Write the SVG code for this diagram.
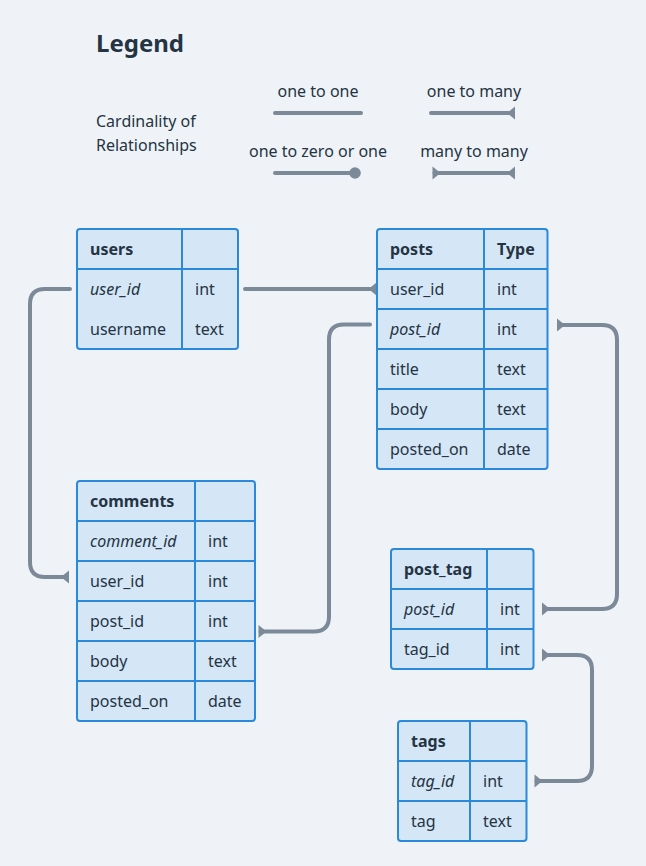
<svg xmlns="http://www.w3.org/2000/svg" width="646" height="866" viewBox="0 0 646 866">
<style>
text{font-family:"Noto Sans","Liberation Sans",sans-serif;font-size:16px;fill:#243443}
.title{font-size:24px;font-weight:700}
.h{font-weight:700}
.i{font-style:italic}
.mid{text-anchor:middle}
.tbl{fill:#d5e6f6;stroke:#2a89da;stroke-width:2}
.grid{stroke:#2a89da;stroke-width:2;fill:none}
.conn{fill:none;stroke:#7b8998;stroke-width:4;stroke-linecap:round;stroke-linejoin:round}
.m{fill:#7b8998}
</style>
<defs>
<marker id="many" markerUnits="userSpaceOnUse" markerWidth="20" markerHeight="20" viewBox="-10 -10 20 20" refX="0" refY="0" orient="auto-start-reverse">
<path class="m" d="M2,-6.5 L2,6.5 L-6,0 Z"/>
</marker>
<marker id="dot" markerUnits="userSpaceOnUse" markerWidth="14" markerHeight="14" viewBox="-7 -7 14 14" refX="0" refY="0" orient="auto">
<circle class="m" cx="0" cy="0" r="5.8"/>
</marker>
</defs>
<rect width="646" height="866" fill="#eff3f7"/>

<g id="legend">
<text class="title" x="96" y="52">Legend</text>
<text x="96" y="127">Cardinality of</text>
<text x="96" y="151">Relationships</text>
<text class="mid" x="318" y="97">one to one</text>
<text class="mid" x="474" y="97">one to many</text>
<text class="mid" x="318" y="157">one to zero or one</text>
<text class="mid" x="474" y="157">many to many</text>
<path class="conn" d="M275,113 H361"/>
<path class="conn" d="M431,113 H513" marker-end="url(#many)"/>
<path class="conn" d="M275,173 H355" marker-end="url(#dot)"/>
<path class="conn" d="M434.5,173 H513" marker-start="url(#many)" marker-end="url(#many)"/>
</g>

<g id="connectors">
<path class="conn" d="M245,289 H374.5" marker-end="url(#many)"/>
<path class="conn" d="M70,289 H45 Q30,289 30,304 V562 Q30,577 45,577 H67" marker-end="url(#many)"/>
<path class="conn" d="M370,324.5 H344 Q329,324.5 329,339.5 V616.5 Q329,631.5 314,631.5 H260.5" marker-end="url(#many)"/>
<path class="conn" d="M559,325 H602 Q617,325 617,340 V594 Q617,609 602,609 H544" marker-start="url(#many)" marker-end="url(#many)"/>
<path class="conn" d="M544,655 H577 Q592,655 592,670 V766 Q592,781 577,781 H536.5" marker-start="url(#many)" marker-end="url(#many)"/>
</g>

<g id="users">
<rect class="tbl" x="77" y="229" width="161" height="120" rx="3"/>
<path class="grid" d="M77,269 H238 M182,229 V349"/>
<text class="h" x="90" y="255">users</text>
<text class="i" x="90" y="295">user_id</text>
<text x="195" y="295">int</text>
<text x="90" y="335">username</text>
<text x="195" y="335">text</text>
</g>

<g id="posts">
<rect class="tbl" x="377" y="229" width="170.5" height="240" rx="3"/>
<path class="grid" d="M377,269 H547.5 M377,309 H547.5 M377,349 H547.5 M377,389 H547.5 M377,429 H547.5 M484,229 V469"/>
<text class="h" x="390" y="255">posts</text>
<text class="h" x="497" y="255">Type</text>
<text x="390" y="295">user_id</text>
<text x="497" y="295">int</text>
<text class="i" x="390" y="335">post_id</text>
<text x="497" y="335">int</text>
<text x="390" y="375">title</text>
<text x="497" y="375">text</text>
<text x="390" y="415">body</text>
<text x="497" y="415">text</text>
<text x="390" y="455">posted_on</text>
<text x="497" y="455">date</text>
</g>

<g id="comments">
<rect class="tbl" x="77" y="481" width="178" height="240" rx="3"/>
<path class="grid" d="M77,521 H255 M77,561 H255 M77,601 H255 M77,641 H255 M77,681 H255 M195,481 V721"/>
<text class="h" x="90" y="507">comments</text>
<text class="i" x="90" y="547">comment_id</text>
<text x="208" y="547">int</text>
<text x="90" y="587">user_id</text>
<text x="208" y="587">int</text>
<text x="90" y="627">post_id</text>
<text x="208" y="627">int</text>
<text x="90" y="667">body</text>
<text x="208" y="667">text</text>
<text x="90" y="707">posted_on</text>
<text x="208" y="707">date</text>
</g>

<g id="post_tag">
<rect class="tbl" x="391" y="549" width="142.5" height="120" rx="3"/>
<path class="grid" d="M391,589 H533.5 M391,629 H533.5 M487,549 V669"/>
<text class="h" x="404" y="575">post_tag</text>
<text class="i" x="404" y="615">post_id</text>
<text x="500" y="615">int</text>
<text x="404" y="655">tag_id</text>
<text x="500" y="655">int</text>
</g>

<g id="tags">
<rect class="tbl" x="398" y="721" width="128.5" height="120" rx="3"/>
<path class="grid" d="M398,761 H526.5 M398,801 H526.5 M470,721 V841"/>
<text class="h" x="411" y="747">tags</text>
<text class="i" x="411" y="787">tag_id</text>
<text x="483" y="787">int</text>
<text x="411" y="827">tag</text>
<text x="483" y="827">text</text>
</g>
</svg>
